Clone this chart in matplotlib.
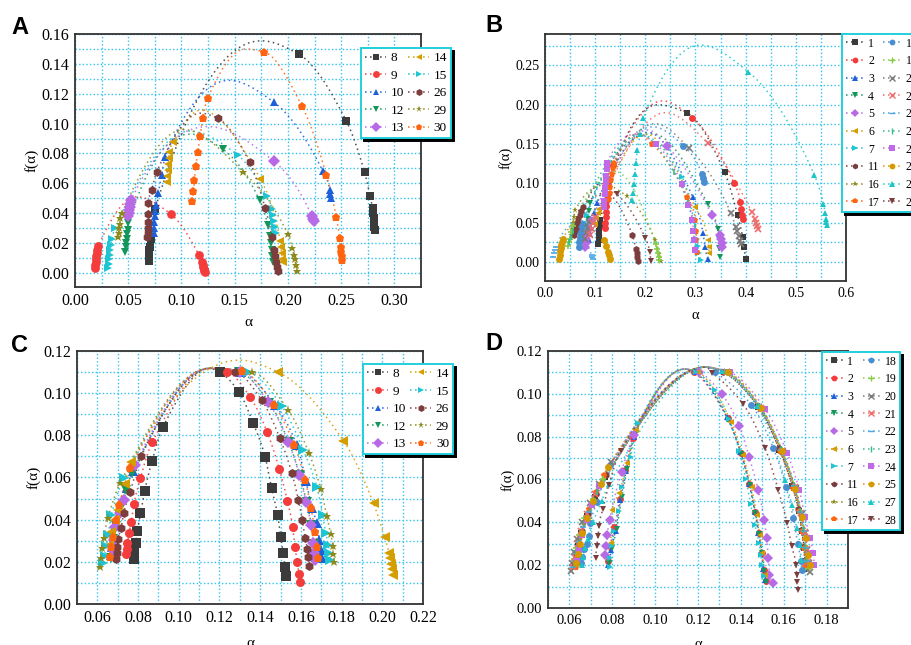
import numpy as np
from matplotlib import pyplot as plt
from matplotlib.lines import Line2D
from matplotlib.ticker import MultipleLocator, FormatStrFormatter

plt.rcParams['font.family'] = ['Liberation Serif', 'DejaVu Serif']

# ---------------- panel A : (alpha, f) points, ordered along each spectrum
A8 = [(0.0695, 0.008), (0.0696, 0.0095), (0.0697, 0.011), (0.0698, 0.013), (0.0700, 0.015), (0.0705, 0.0175),
      (0.0715, 0.0225), (0.0752, 0.0427), (0.2100, 0.1466), (0.2549, 0.1017), (0.2720, 0.0674), (0.2773, 0.0512),
      (0.2795, 0.0433), (0.2802, 0.0400), (0.2806, 0.0370), (0.2810, 0.0340), (0.2813, 0.0310), (0.2815, 0.0290)]
A9 = [(0.0188, 0.003), (0.0190, 0.005), (0.0193, 0.007), (0.0197, 0.009), (0.0200, 0.011), (0.0205, 0.013),
      (0.0210, 0.0155), (0.0219, 0.0179), (0.0900, 0.0394), (0.1166, 0.0118), (0.1195, 0.0070), (0.1200, 0.0055),
      (0.1205, 0.0040), (0.1210, 0.0028), (0.1215, 0.0015), (0.1220, 0.0007)]
A10 = [(0.0740, 0.0266), (0.0742, 0.030), (0.0745, 0.034), (0.0748, 0.038), (0.0752, 0.0415), (0.0762, 0.0454),
       (0.0784, 0.0537), (0.0815, 0.0656), (0.0846, 0.0778), (0.1865, 0.1145), (0.2330, 0.0680), (0.2395, 0.0555),
       (0.2400, 0.0525), (0.2405, 0.0500)]
A12 = [(0.0470, 0.014), (0.0475, 0.017), (0.0480, 0.020), (0.0485, 0.023), (0.0490, 0.026), (0.0495, 0.029),
       (0.0502, 0.0331), (0.1390, 0.0828), (0.1734, 0.0488), (0.1812, 0.0320), (0.1830, 0.025), (0.1840, 0.020),
       (0.1850, 0.015), (0.1855, 0.011), (0.1860, 0.007)]
A13 = [(0.0500, 0.038), (0.0505, 0.040), (0.0510, 0.042), (0.0515, 0.044), (0.0520, 0.046), (0.0527, 0.0488),
       (0.1865, 0.0750), (0.2226, 0.0380), (0.2235, 0.0360), (0.2245, 0.0345)]
A14 = [(0.0860, 0.061), (0.0865, 0.065), (0.0870, 0.069), (0.0875, 0.073), (0.0880, 0.077), (0.0885, 0.081),
       (0.0925, 0.088), (0.1740, 0.0631), (0.1928, 0.0213), (0.1935, 0.017), (0.1940, 0.013), (0.1945, 0.009),
       (0.1950, 0.007)]
A15 = [(0.0310, 0.003), (0.0315, 0.006), (0.0320, 0.009), (0.0325, 0.012), (0.0330, 0.015), (0.0335, 0.0185),
       (0.0345, 0.0224), (0.0376, 0.0298), (0.1527, 0.0790), (0.1803, 0.0512), (0.1850, 0.043), (0.1860, 0.039),
       (0.1870, 0.035), (0.1880, 0.031), (0.1890, 0.027)]
A26 = [(0.0680, 0.024), (0.0682, 0.027), (0.0684, 0.030), (0.0686, 0.034), (0.0688, 0.0393), (0.0690, 0.0466),
       (0.0721, 0.0555), (0.0768, 0.0678), (0.1339, 0.1036), (0.1640, 0.0741), (0.1787, 0.0433), (0.1849, 0.0243),
       (0.1865, 0.0153), (0.1880, 0.011), (0.1890, 0.007), (0.1900, 0.004), (0.1905, 0.0015)]
A29 = [(0.0405, 0.024), (0.0410, 0.027), (0.0415, 0.030), (0.0420, 0.033), (0.0425, 0.0365), (0.0439, 0.0399),
       (0.1577, 0.0678), (0.2000, 0.0258), (0.2043, 0.0164), (0.2055, 0.012), (0.2065, 0.009), (0.2075, 0.005),
       (0.2085, 0.001)]
A30 = [(0.1103, 0.0483), (0.1113, 0.0546), (0.1122, 0.0624), (0.1135, 0.0714), (0.1154, 0.0811), (0.1176, 0.0916),
       (0.1200, 0.1040), (0.1248, 0.1174), (0.1771, 0.1482), (0.2132, 0.1118), (0.2360, 0.0658), (0.2455, 0.0371),
       (0.2486, 0.0231), (0.2495, 0.0175), (0.2500, 0.014), (0.2505, 0.011), (0.2510, 0.0085)]
# top of each fitted spectrum
A_top = {8: (0.175, 0.1555), 9: (0.058, 0.051), 10: (0.145, 0.129), 12: (0.108, 0.093), 13: (0.125, 0.098),
         14: (0.118, 0.109), 15: (0.108, 0.095), 26: (0.118, 0.107), 29: (0.102, 0.096), 30: (0.160, 0.150)}

# ---------------- panel B
B1 = [(0.1065, 0.023), (0.107, 0.028), (0.1075, 0.034), (0.108, 0.040), (0.109, 0.046), (0.110, 0.053),
      (0.283, 0.1895), (0.358, 0.1141), (0.384, 0.0596), (0.394, 0.032), (0.397, 0.019), (0.400, 0.004)]
B2 = [(0.120, 0.043), (0.1203, 0.050), (0.1206, 0.057), (0.121, 0.064), (0.1215, 0.071), (0.122, 0.078),
      (0.123, 0.085), (0.126, 0.098), (0.136, 0.124), (0.294, 0.1831), (0.377, 0.100), (0.389, 0.0767),
      (0.390, 0.068), (0.392, 0.060), (0.394, 0.055)]
B3 = [(0.087, 0.028), (0.089, 0.036), (0.091, 0.044), (0.094, 0.053), (0.098, 0.062), (0.103, 0.075),
      (0.295, 0.0822), (0.315, 0.0375), (0.319, 0.019), (0.324, 0.004)]
B4 = [(0.082, 0.045), (0.085, 0.055), (0.088, 0.065), (0.090, 0.075),
      (0.324, 0.0745), (0.344, 0.0426), (0.346, 0.030), (0.347, 0.018), (0.348, 0.006)]
B5 = [(0.080, 0.019), (0.081, 0.024), (0.082, 0.029), (0.084, 0.035), (0.087, 0.042), (0.092, 0.052),
      (0.244, 0.147), (0.333, 0.0596), (0.349, 0.035), (0.351, 0.0298), (0.352, 0.024), (0.353, 0.019)]
B6 = [(0.100, 0.049), (0.102, 0.056), (0.105, 0.062), (0.108, 0.068),
      (0.299, 0.0703), (0.325, 0.0277), (0.326, 0.019), (0.327, 0.011)]
B7 = [(0.073, 0.032), (0.075, 0.038), (0.077, 0.044), (0.080, 0.050), (0.083, 0.060),
      (0.273, 0.1086), (0.303, 0.030), (0.305, 0.020), (0.307, 0.011), (0.310, 0.003)]
B11 = [(0.058, 0.035), (0.060, 0.040), (0.062, 0.045), (0.064, 0.050), (0.066, 0.055), (0.069, 0.060),
       (0.072, 0.065), (0.076, 0.070), (0.174, 0.035), (0.181, 0.017), (0.183, 0.011), (0.184, 0.006), (0.185, 0.002)]
B16 = [(0.050, 0.028), (0.052, 0.035), (0.054, 0.042), (0.056, 0.050), (0.058, 0.058), (0.060, 0.066),
       (0.163, 0.0839), (0.220, 0.0277), (0.228, 0.0106), (0.231, 0.002)]
B17 = [(0.128, 0.080), (0.129, 0.088), (0.130, 0.096), (0.1315, 0.104), (0.133, 0.112), (0.135, 0.120),
       (0.137, 0.126), (0.214, 0.150), (0.284, 0.0822), (0.300, 0.053), (0.301, 0.040), (0.302, 0.028), (0.304, 0.013)]
B18 = [(0.067, 0.019), (0.068, 0.025), (0.069, 0.031), (0.070, 0.037), (0.072, 0.043), (0.074, 0.049),
       (0.276, 0.148), (0.313, 0.112), (0.315, 0.1065), (0.317, 0.102)]
B19 = [(0.045, 0.020), (0.047, 0.025), (0.049, 0.030), (0.052, 0.038), (0.055, 0.046),
       (0.221, 0.023), (0.223, 0.017), (0.225, 0.012), (0.227, 0.007), (0.228, 0.003)]
B20 = [(0.080, 0.030), (0.082, 0.037), (0.085, 0.044), (0.088, 0.051), (0.287, 0.145), (0.371, 0.062),
       (0.380, 0.045), (0.383, 0.039), (0.386, 0.033), (0.389, 0.027), (0.391, 0.023)]
B21 = [(0.090, 0.035), (0.093, 0.042), (0.096, 0.050), (0.100, 0.058), (0.325, 0.151), (0.412, 0.064),
       (0.418, 0.055), (0.421, 0.050), (0.423, 0.046), (0.425, 0.042)]
B22 = [(0.015, 0.006), (0.017, 0.011), (0.019, 0.015), (0.021, 0.019), (0.093, 0.009), (0.094, 0.006), (0.095, 0.004)]
B23 = [(0.048, 0.025), (0.051, 0.032), (0.055, 0.040), (0.257, 0.115), (0.285, 0.075), (0.300, 0.045)]
B24 = [(0.117, 0.070), (0.118, 0.078), (0.119, 0.086), (0.120, 0.094), (0.121, 0.102), (0.122, 0.110),
       (0.123, 0.118), (0.124, 0.126), (0.221, 0.150), (0.273, 0.0992), (0.286, 0.0724), (0.294, 0.0532),
       (0.296, 0.040), (0.297, 0.028), (0.299, 0.015)]
B25 = [(0.028, 0.004), (0.029, 0.009), (0.030, 0.014), (0.031, 0.018), (0.032, 0.022), (0.034, 0.026),
       (0.036, 0.030), (0.118, 0.0277), (0.122, 0.020), (0.126, 0.013), (0.128, 0.0085), (0.129, 0.004)]
B27 = [(0.174, 0.0788), (0.176, 0.0882), (0.178, 0.0988), (0.179, 0.1116), (0.181, 0.1256), (0.184, 0.1427),
       (0.190, 0.1627), (0.196, 0.183), (0.405, 0.242), (0.537, 0.1107), (0.555, 0.0745), (0.5585, 0.0626),
       (0.560, 0.0554), (0.561, 0.051), (0.562, 0.047)]
B28 = [(0.063, 0.040), (0.065, 0.047), (0.068, 0.055), (0.072, 0.062),
       (0.143, 0.0865), (0.200, 0.0307), (0.209, 0.0128), (0.211, 0.002)]
B_top = {1: (0.225, 0.200), 2: (0.235, 0.205), 3: (0.205, 0.165), 4: (0.215, 0.163), 5: (0.205, 0.168),
         6: (0.200, 0.163), 7: (0.190, 0.162), 11: (0.120, 0.088), 16: (0.120, 0.098), 17: (0.185, 0.163),
         18: (0.215, 0.172), 19: (0.140, 0.115), 20: (0.220, 0.176), 21: (0.240, 0.190), 22: (0.050, 0.045),
         23: (0.190, 0.162), 24: (0.185, 0.163), 25: (0.075, 0.060), 27: (0.310, 0.276), 28: (0.110, 0.100)}

# ---------------- panel C
C8 = [(0.0779, 0.0212), (0.0782, 0.0245), (0.0789, 0.0288), (0.0797, 0.0348), (0.0812, 0.043), (0.0833, 0.0538),
      (0.0869, 0.068), (0.0923, 0.0841), (0.1202, 0.1099), (0.1297, 0.1004), (0.1366, 0.0857), (0.1424, 0.0699),
      (0.1456, 0.0549), (0.1486, 0.0422), (0.1501, 0.0319), (0.1514, 0.024), (0.1522, 0.0177), (0.1527, 0.0133)]
C9 = [(0.0743, 0.0237), (0.0744, 0.0259), (0.0748, 0.0291), (0.0756, 0.0335), (0.0767, 0.039), (0.0780, 0.0474),
      (0.0812, 0.0599), (0.0871, 0.077), (0.1238, 0.1102), (0.1350, 0.0983), (0.1435, 0.0814), (0.1494, 0.064),
      (0.1534, 0.0489), (0.1560, 0.0367), (0.1571, 0.0269), (0.1583, 0.0198), (0.1591, 0.0141), (0.1596, 0.0103)]
C10 = [(0.0668, 0.023), (0.0672, 0.027), (0.0680, 0.032), (0.0692, 0.038), (0.0712, 0.046), (0.0745, 0.055),
       (0.0775, 0.063), (0.1305, 0.1102), (0.1475, 0.0942), (0.1580, 0.0754), (0.1625, 0.0585), (0.1655, 0.0455),
       (0.1678, 0.0383), (0.1691, 0.0304), (0.1698, 0.0256), (0.1702, 0.022)]
C12 = [(0.0665, 0.022), (0.0670, 0.026), (0.0678, 0.031), (0.0690, 0.037), (0.0710, 0.045), (0.0740, 0.054),
       (0.0770, 0.062), (0.1295, 0.1102), (0.1445, 0.0955), (0.1540, 0.0768), (0.1595, 0.061), (0.1628, 0.0483),
       (0.1652, 0.0373), (0.1664, 0.0286), (0.1668, 0.0238), (0.1672, 0.021)]
C13 = [(0.0677, 0.0256), (0.0680, 0.0304), (0.0685, 0.0367), (0.0713, 0.043), (0.0730, 0.0493), (0.0784, 0.0659),
       (0.1299, 0.1102), (0.1440, 0.0957), (0.1538, 0.077), (0.1593, 0.0612), (0.1625, 0.0485), (0.1650, 0.0375),
       (0.1662, 0.0288), (0.1666, 0.024), (0.1670, 0.0209)]
C14 = [(0.0655, 0.028), (0.0665, 0.034), (0.0685, 0.040), (0.0702, 0.0446), (0.0735, 0.0569), (0.0767, 0.0675),
       (0.1489, 0.1099), (0.1809, 0.0775), (0.1957, 0.0477), (0.2011, 0.0319), (0.2034, 0.024), (0.2039, 0.0217),
       (0.2043, 0.019), (0.2047, 0.0165), (0.2052, 0.0138)]
C15 = [(0.0628, 0.0193), (0.0636, 0.0228), (0.0644, 0.0275), (0.0653, 0.0327), (0.0669, 0.0422), (0.0731, 0.0596),
       (0.1338, 0.1102), (0.1506, 0.0939), (0.1612, 0.073), (0.1678, 0.0557), (0.1707, 0.0422), (0.1722, 0.0335),
       (0.1735, 0.028), (0.1740, 0.024), (0.1744, 0.0209)]
C26 = [(0.0694, 0.0212), (0.0695, 0.024), (0.0697, 0.0272), (0.0702, 0.0307), (0.0716, 0.0359), (0.0730, 0.0433),
       (0.0762, 0.0533), (0.0817, 0.0704), (0.1276, 0.1102), (0.1407, 0.0968), (0.1497, 0.0786), (0.1555, 0.0623),
       (0.1588, 0.0493), (0.1607, 0.0398), (0.1621, 0.0311), (0.1632, 0.0261), (0.1636, 0.0221), (0.1638, 0.0182)]
C29 = [(0.0611, 0.0177), (0.0620, 0.0217), (0.0625, 0.0264), (0.0631, 0.0311), (0.0652, 0.0406), (0.0713, 0.0576),
       (0.1358, 0.1102), (0.1538, 0.092), (0.1640, 0.0715), (0.1698, 0.0545), (0.1727, 0.0419), (0.1747, 0.033),
       (0.1757, 0.0277), (0.1760, 0.0236), (0.1765, 0.0201)]
C30 = [(0.0661, 0.0225), (0.0666, 0.0272), (0.0677, 0.0319), (0.0690, 0.0398), (0.0707, 0.047), (0.0762, 0.0643),
       (0.1309, 0.1105), (0.1468, 0.0944), (0.1568, 0.0754), (0.1621, 0.0588), (0.1650, 0.0454), (0.1670, 0.0343),
       (0.1681, 0.0272), (0.1686, 0.0217)]
C_top = {8: (0.115, 0.1118), 9: (0.115, 0.1118), 10: (0.115, 0.1118), 12: (0.115, 0.1118), 13: (0.115, 0.1118),
         14: (0.130, 0.1157), 15: (0.115, 0.1118), 26: (0.115, 0.1118), 29: (0.115, 0.1118), 30: (0.115, 0.1118)}

# ---------------- panel D
D1 = [(0.0625, 0.020), (0.0630, 0.024), (0.0640, 0.029), (0.0655, 0.035), (0.0680, 0.043), (0.0720, 0.052),
      (0.0765, 0.061), (0.1320, 0.110), (0.1480, 0.094), (0.1580, 0.074), (0.1640, 0.057), (0.1670, 0.0455),
      (0.1685, 0.036), (0.1695, 0.028), (0.1700, 0.022), (0.1705, 0.018)]
D2 = [(0.0778, 0.022), (0.0790, 0.029), (0.0810, 0.038), (0.0835, 0.051), (0.0860, 0.0645), (0.0895, 0.0795),
      (0.1180, 0.110), (0.1338, 0.0885), (0.1400, 0.0725), (0.1440, 0.0578), (0.1466, 0.0448), (0.1484, 0.0348),
      (0.1498, 0.0258), (0.1508, 0.0178), (0.1515, 0.0125)]
D3 = [(0.0782, 0.020), (0.0795, 0.027), (0.0815, 0.036), (0.0838, 0.0505), (0.0865, 0.064), (0.0900, 0.080),
      (0.1185, 0.110), (0.1335, 0.089), (0.1398, 0.073), (0.1438, 0.058), (0.1465, 0.045), (0.1482, 0.035),
      (0.1495, 0.026), (0.1505, 0.018), (0.1512, 0.013)]
D4 = [(0.0785, 0.021), (0.0800, 0.028), (0.0820, 0.037), (0.0845, 0.052), (0.0870, 0.065), (0.0905, 0.081),
      (0.1195, 0.110), (0.1342, 0.088), (0.1402, 0.072), (0.1442, 0.0575), (0.1468, 0.0445), (0.1486, 0.0345),
      (0.1500, 0.0255), (0.1510, 0.0175), (0.1518, 0.012)]
D5 = [(0.0765, 0.0249), (0.0771, 0.0288), (0.0776, 0.0342), (0.0787, 0.0409), (0.0843, 0.0637), (0.0901, 0.0808),
      (0.1205, 0.110), (0.1310, 0.100), (0.1392, 0.0852), (0.1438, 0.0707), (0.1480, 0.0552), (0.1509, 0.0412),
      (0.1520, 0.0326), (0.1528, 0.0233), (0.1533, 0.0155), (0.1548, 0.0117)]
D6 = [(0.0792, 0.0303), (0.0800, 0.0459), (0.0831, 0.0536), (0.0870, 0.0676), (0.0910, 0.083),
      (0.1200, 0.110), (0.1356, 0.0867), (0.1408, 0.0715), (0.1450, 0.0567), (0.1473, 0.0435), (0.1489, 0.0342),
      (0.1497, 0.0256), (0.1512, 0.0155)]
D7 = [(0.0787, 0.0191), (0.0789, 0.0233), (0.0800, 0.0288), (0.0807, 0.0361), (0.0831, 0.0451), (0.0846, 0.0567),
      (0.0885, 0.0707), (0.0921, 0.0863), (0.1190, 0.110), (0.1278, 0.1018), (0.1345, 0.0883), (0.1392, 0.0734),
      (0.1423, 0.0603), (0.1445, 0.0485), (0.1465, 0.0389), (0.1485, 0.0303), (0.1493, 0.0249), (0.1497, 0.0202),
      (0.1507, 0.0148)]
D11 = [(0.0628, 0.021), (0.0635, 0.025), (0.0645, 0.030), (0.0660, 0.036), (0.0685, 0.044), (0.0725, 0.053),
       (0.0770, 0.062), (0.1315, 0.110), (0.1478, 0.0945), (0.1578, 0.0745), (0.1638, 0.0575), (0.1668, 0.046),
       (0.1682, 0.0365), (0.1692, 0.0285), (0.1698, 0.0225), (0.1702, 0.019)]
D16 = [(0.0620, 0.019), (0.0625, 0.023), (0.0635, 0.028), (0.0650, 0.034), (0.0675, 0.042), (0.0715, 0.051),
       (0.0760, 0.060), (0.1330, 0.110), (0.1482, 0.094), (0.1585, 0.074), (0.1648, 0.057), (0.1675, 0.0455),
       (0.1690, 0.036), (0.1700, 0.028), (0.1706, 0.022), (0.1710, 0.018)]
D17 = [(0.0630, 0.019), (0.0635, 0.023), (0.0640, 0.027), (0.0650, 0.033), (0.0668, 0.040), (0.0690, 0.046),
       (0.0725, 0.054), (0.0760, 0.062), (0.1325, 0.110), (0.1485, 0.094), (0.1582, 0.0734), (0.1644, 0.056),
       (0.1672, 0.0451), (0.1683, 0.0358), (0.1694, 0.028), (0.1699, 0.0218), (0.1700, 0.0194)]
D18 = [(0.0655, 0.021), (0.0660, 0.024), (0.0668, 0.0275), (0.0680, 0.030), (0.0690, 0.0334), (0.0698, 0.0396),
       (0.0729, 0.0497), (0.0790, 0.0667), (0.1280, 0.110), (0.1449, 0.0948), (0.1551, 0.0746), (0.1610, 0.0567),
       (0.1644, 0.042), (0.1665, 0.030), (0.1680, 0.022), (0.1683, 0.0179)]
D19 = [(0.0610, 0.018), (0.0620, 0.023), (0.0630, 0.028), (0.0645, 0.034), (0.0670, 0.042), (0.0710, 0.051),
       (0.0755, 0.060), (0.1330, 0.110), (0.1490, 0.094), (0.1590, 0.074), (0.1650, 0.057), (0.1680, 0.045),
       (0.1695, 0.036), (0.1705, 0.028), (0.1710, 0.022), (0.1715, 0.018)]
D20 = [(0.0605, 0.0171), (0.0610, 0.021), (0.0620, 0.026), (0.0635, 0.032), (0.0660, 0.040), (0.0695, 0.049),
       (0.0740, 0.058), (0.0795, 0.068), (0.1335, 0.110), (0.1495, 0.093), (0.1595, 0.073), (0.1655, 0.056),
       (0.1685, 0.044), (0.1700, 0.035), (0.1710, 0.027), (0.1718, 0.021), (0.1722, 0.017)]
D21 = [(0.0615, 0.019), (0.0625, 0.024), (0.0638, 0.030), (0.0655, 0.036), (0.0680, 0.044), (0.0720, 0.053),
       (0.1335, 0.110), (0.1492, 0.0935), (0.1592, 0.0735), (0.1652, 0.0565), (0.1682, 0.0445), (0.1698, 0.0355),
       (0.1708, 0.0275), (0.1715, 0.0215)]
D22 = [(0.0618, 0.019), (0.0630, 0.025), (0.0645, 0.031), (0.0665, 0.038), (0.0690, 0.045),
       (0.1330, 0.110), (0.1488, 0.094), (0.1588, 0.074), (0.1648, 0.057), (0.1678, 0.045), (0.1693, 0.036),
       (0.1703, 0.028), (0.1708, 0.022)]
D23 = [(0.0620, 0.020), (0.0632, 0.026), (0.0648, 0.032), (0.0668, 0.039), (0.0695, 0.046), (0.0730, 0.054),
       (0.1332, 0.110), (0.1486, 0.0942), (0.1586, 0.0742), (0.1646, 0.0572), (0.1676, 0.0452), (0.1691, 0.0362),
       (0.1701, 0.0282), (0.1706, 0.0222)]
D24 = [(0.0635, 0.022), (0.0645, 0.027), (0.0660, 0.034), (0.0680, 0.041), (0.0705, 0.048), (0.0740, 0.057),
       (0.1350, 0.110), (0.1512, 0.093), (0.1616, 0.0723), (0.1672, 0.0552), (0.1699, 0.0427), (0.1722, 0.0326),
       (0.1737, 0.0256), (0.1743, 0.0202)]
D25 = [(0.0630, 0.021), (0.0640, 0.025), (0.0650, 0.030), (0.0660, 0.035), (0.0680, 0.042), (0.0710, 0.050),
       (0.0745, 0.058), (0.0780, 0.066), (0.1340, 0.110), (0.1496, 0.0936), (0.1590, 0.0731), (0.1652, 0.0557),
       (0.1683, 0.0427), (0.1704, 0.0326), (0.1715, 0.0249), (0.1722, 0.0202)]
D27 = [(0.0660, 0.020), (0.0665, 0.024), (0.0672, 0.028), (0.0685, 0.032), (0.0710, 0.040), (0.0750, 0.050),
       (0.0785, 0.058), (0.1310, 0.1105), (0.1475, 0.0945), (0.1606, 0.0598), (0.1637, 0.0482), (0.1661, 0.0373),
       (0.1676, 0.0295), (0.1681, 0.0225)]
D28 = [(0.0722, 0.0233), (0.0727, 0.0288), (0.0734, 0.0334), (0.0737, 0.0381), (0.0756, 0.0462), (0.0784, 0.0575),
       (0.0839, 0.0735), (0.1267, 0.1099), (0.1411, 0.0951), (0.1512, 0.0749), (0.1574, 0.0552), (0.1616, 0.0396),
       (0.1637, 0.0288), (0.1657, 0.0202), (0.1660, 0.0155), (0.1664, 0.0121), (0.1668, 0.0085)]
D_inner_top = (0.1140, 0.1116)
D_outer_top = (0.1235, 0.1125)

# marker / colour for every sample number
STYLE = {
    1: ('s', '#3b3b3b'), 8: ('s', '#3b3b3b'),
    2: ('o', '#f43c3c'), 9: ('o', '#f43c3c'),
    3: ('^', '#1d60d8'), 10: ('^', '#1d60d8'),
    4: ('v', '#14965a'), 12: ('v', '#14965a'),
    5: ('D', '#b86ae6'), 13: ('D', '#b86ae6'),
    6: ('<', '#d49d00'), 14: ('<', '#d49d00'),
    7: ('>', '#1ec4d2'), 15: ('>', '#1ec4d2'),
    11: ('h', '#7c3d3d'), 26: ('h', '#7c3d3d'),
    16: ('*', '#8c8a1c'), 29: ('*', '#8c8a1c'),
    17: ('p', '#ff6510'), 30: ('p', '#ff6510'),
    18: ('o', '#4a8ed2'), 19: ('+', '#86cc4a'), 20: ('x', '#7a7a7a'),
    21: ('x', '#ee6b6b'), 22: ('_', '#4aa6e6'), 23: ('|', '#38b890'),
    24: ('s', '#c06ae8'), 25: ('o', '#d49a00'), 27: ('^', '#1cc6c8'), 28: ('v', '#7c3d3d'),
}
DOTS = (0, (1, 2.3))
GRID = '#2ec4ee'


def pchip(x, y, xs):
    h = np.diff(x)
    d = np.diff(y) / h
    m = np.zeros_like(x)
    m[0], m[-1] = d[0], d[-1]
    for k in range(1, len(x) - 1):
        if d[k - 1] * d[k] > 0:
            w1 = 2 * h[k] + h[k - 1]
            w2 = h[k] + 2 * h[k - 1]
            m[k] = (w1 + w2) / (w1 / d[k - 1] + w2 / d[k])
    i = np.clip(np.searchsorted(x, xs) - 1, 0, len(x) - 2)
    t = (xs - x[i]) / h[i]
    h00 = 2 * t**3 - 3 * t**2 + 1
    h10 = t**3 - 2 * t**2 + t
    h01 = -2 * t**3 + 3 * t**2
    h11 = t**3 - t**2
    return h00 * y[i] + h10 * h[i] * m[i] + h01 * y[i + 1] + h11 * h[i] * m[i + 1]


def spectrum_curve(alpha, f, top):
    x = np.append(alpha, top[0])
    y = np.append(f, top[1])
    order = np.argsort(x, kind='stable')
    x = x[order] + np.arange(len(x)) * 1e-7
    y = y[order]
    xs = np.concatenate([np.linspace(x[k], x[k + 1], 25, endpoint=False) for k in range(len(x) - 1)] + [x[-1:]])
    return xs, pchip(x, y, xs)


def draw_panel(ax, series, tops, ms):
    for lab, pts in series.items():
        mk, col = STYLE[lab]
        a = np.array([p[0] for p in pts])
        f = np.array([p[1] for p in pts])
        xs, ys = spectrum_curve(a, f, tops[lab])
        ax.plot(xs, ys, ls=DOTS, lw=1.1, color=col, alpha=0.9, zorder=2)
    for lab, pts in series.items():
        mk, col = STYLE[lab]
        a = [p[0] for p in pts]
        f = [p[1] for p in pts]
        lw = 1.2 if mk in '+x|_' else 0
        ax.plot(a, f, ls='none', marker=mk, ms=ms, color=col, mec=col, mew=lw, zorder=3)


def style_axes(ax, xlim, ylim, xmaj, xmin, ymaj, ymin, xfmt, yfmt, fs):
    ax.set_xlim(*xlim)
    ax.set_ylim(*ylim)
    ax.xaxis.set_major_locator(MultipleLocator(xmaj))
    ax.xaxis.set_minor_locator(MultipleLocator(xmin))
    ax.yaxis.set_major_locator(MultipleLocator(ymaj))
    ax.yaxis.set_minor_locator(MultipleLocator(ymin))
    ax.xaxis.set_major_formatter(FormatStrFormatter(xfmt))
    ax.yaxis.set_major_formatter(FormatStrFormatter(yfmt))
    ax.grid(True, which='both', color=GRID, ls=(0, (1, 1.6)), lw=1.0, zorder=0)
    ax.set_axisbelow(True)
    ax.tick_params(which='both', length=0, labelsize=fs, pad=4)
    for s in ax.spines.values():
        s.set_color('#333333')
        s.set_linewidth(1.3)


def add_legend(ax, labels, anchor, fs, ms, hl, ls):
    handles = [Line2D([], [], ls=DOTS, lw=1.1, color=STYLE[l][1], marker=STYLE[l][0], ms=ms,
                      mec=STYLE[l][1], mew=1.0 if STYLE[l][0] in '+x|_' else 0, label=str(l)) for l in labels]
    leg = ax.legend(handles=handles, ncol=2, loc='upper left', bbox_to_anchor=anchor, borderaxespad=0,
                    fontsize=fs, numpoints=1, handlelength=hl, handletextpad=0.35, columnspacing=0.3,
                    labelspacing=ls, borderpad=0.3, fancybox=False, framealpha=1,
                    shadow={'color': 'black', 'alpha': 1})
    leg.get_frame().set_edgecolor('#22cfdc')
    leg.get_frame().set_linewidth(1.4)
    leg.set_zorder(10)
    return leg


fig = plt.figure(figsize=(9.12, 6.45), dpi=100)
axA = fig.add_axes([0.0822, 0.555, 0.3794, 0.3922])
axB = fig.add_axes([0.5976, 0.5643, 0.330, 0.383])
axC = fig.add_axes([0.0844, 0.0636, 0.3794, 0.3922])
axD = fig.add_axes([0.6009, 0.0574, 0.329, 0.3984])

a_series = {8: A8, 9: A9, 10: A10, 12: A12, 13: A13, 14: A14, 15: A15, 26: A26, 29: A29, 30: A30}
b_series = {1: B1, 2: B2, 3: B3, 4: B4, 5: B5, 6: B6, 7: B7, 11: B11, 16: B16, 17: B17,
            18: B18, 19: B19, 20: B20, 21: B21, 22: B22, 23: B23, 24: B24, 25: B25, 27: B27, 28: B28}
c_series = {8: C8, 9: C9, 10: C10, 12: C12, 13: C13, 14: C14, 15: C15, 26: C26, 29: C29, 30: C30}
d_series = {1: D1, 2: D2, 3: D3, 4: D4, 5: D5, 6: D6, 7: D7, 11: D11, 16: D16, 17: D17,
            18: D18, 19: D19, 20: D20, 21: D21, 22: D22, 23: D23, 24: D24, 25: D25, 27: D27, 28: D28}
d_top = {k: (D_inner_top if k in (2, 3, 4, 5, 6, 7) else D_outer_top) for k in d_series}

draw_panel(axA, a_series, A_top, 6.3)
draw_panel(axB, b_series, B_top, 5)
draw_panel(axC, c_series, C_top, 6.5)
draw_panel(axD, d_series, d_top, 5)

style_axes(axA, (0, 0.325), (-0.0095, 0.16), 0.05, 0.025, 0.02, 0.01, '%.2f', '%.2f', 11.5)
style_axes(axB, (0, 0.6), (-0.024, 0.29), 0.1, 0.05, 0.05, 0.025, '%.1f', '%.2f', 10)
style_axes(axC, (0.05, 0.22), (0, 0.12), 0.02, 0.01, 0.02, 0.01, '%.2f', '%.2f', 11.5)
style_axes(axD, (0.05, 0.19), (0, 0.12), 0.02, 0.01, 0.02, 0.01, '%.2f', '%.2f', 10.5)

for ax, lp, fs in ((axA, 5, 11), (axB, 7, 10.5), (axC, 8, 11), (axD, 8, 10.5)):
    ax.set_xlabel('α', fontsize=fs, labelpad=lp)
    ax.set_ylabel('f(α)', fontsize=fs, labelpad=2)

add_legend(axA, list(a_series), (0.827, 0.945), 9.5, 5, 1.6, 0.4)
add_legend(axB, list(b_series), (0.987, 1.0), 8.5, 4.2, 1.55, 0.48)
add_legend(axC, list(c_series), (0.827, 0.949), 9.5, 5, 1.6, 0.4)
add_legend(axD, list(d_series), (0.913, 0.996), 8.5, 4.2, 1.5, 0.48)

for x, y, s in ((0.012, 0.957, 'A'), (0.532, 0.960, 'B'), (0.012, 0.464, 'C'), (0.532, 0.467, 'D')):
    fig.text(x, y, s, fontsize=17, fontweight='bold', family='Liberation Sans', va='center')

fig.savefig('out.png', dpi=100)
